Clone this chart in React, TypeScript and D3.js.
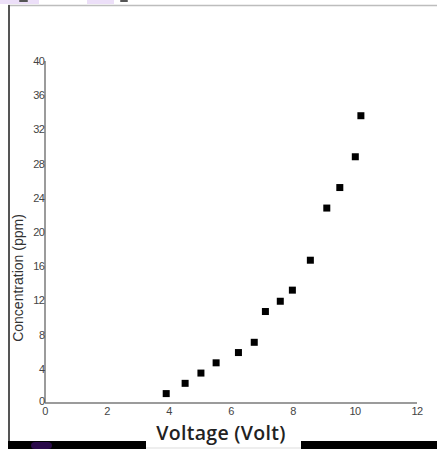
import React from "react";
import * as d3 from "d3";

// voltage (V) vs concentration (ppm)
const voltage = [3.91, 4.52, 5.03, 5.52, 6.24, 6.75, 7.11, 7.59, 7.98, 8.56, 9.09, 9.51, 10.01, 10.19];
const concentration = [1.1, 2.3, 3.5, 4.7, 5.9, 7.1, 10.7, 11.9, 13.2, 16.7, 22.8, 25.2, 28.8, 33.6];
const xTicks = [0, 2, 4, 6, 8, 10, 12];
const yTicks = [0, 4, 8, 12, 16, 20, 24, 28, 32, 36, 40];

const W = 437;
const H = 449;

export default function App() {
  const x = d3.scaleLinear().domain([0, 12]).range([45, 417]);
  const y = d3.scaleLinear().domain([0, 40]).range([403, 61]);
  const pts = voltage.map((v, i) => ({ v, c: concentration[i] }));
  const axisColor = "#7a7a7a";
  const tickColor = "#444";

  return (
    <svg
      width={W}
      height={H}
      style={{ position: "absolute", left: 0, top: 0, background: "#fff" }}
    >
      {/* bits of the surrounding page */}
      <rect x={0} y={0} width={39} height={4} fill="#ecdff8" />
      <rect x={87} y={0} width={27} height={4} fill="#ecdff8" />
      <rect x={19} y={0} width={9} height={2} rx={1} fill="#555" />
      <rect x={120} y={0} width={8} height={2} rx={1} fill="#555" />
      <line x1={8} x2={W} y1={5.5} y2={5.5} stroke="#bdbdbd" strokeWidth={1.5} />
      <line x1={9} x2={9} y1={5} y2={441} stroke="#555" strokeWidth={2} />
      <rect x={8} y={441} width={138} height={8} fill="#000" />
      <rect x={31} y={442} width={21} height={7} rx={4} fill="#2a0a4a" />
      <rect x={301} y={441} width={136} height={8} fill="#000" />
      <line x1={146} x2={301} y1={448} y2={448} stroke="#ddd" strokeWidth={1} />

      {/* axes */}
      <line x1={x(0)} x2={x(0)} y1={y(40)} y2={y(0)} stroke={axisColor} strokeWidth={1.5} />
      <line x1={x(0)} x2={x(12)} y1={y(0)} y2={y(0)} stroke={axisColor} strokeWidth={1.5} />

      <g fontFamily="Liberation Sans, Arial, sans-serif" fontSize={11} fill={tickColor} letterSpacing={-0.5}>
        {yTicks.map((t) => (
          <text key={"y" + t} x={x(0) - 0.5} y={y(t) + (t === 0 ? 2 : 4)} textAnchor="end">
            {t}
          </text>
        ))}
        {xTicks.map((t) => (
          <text key={"x" + t} x={x(t)} y={y(0) + 12} textAnchor="middle">
            {t}
          </text>
        ))}
      </g>

      {/* points */}
      {pts.map((d, i) => (
        <rect
          key={i}
          x={x(d.v) - 3.5}
          y={y(d.c) - 3.5}
          width={7}
          height={7}
          fill="#000"
        />
      ))}

      {/* axis titles */}
      <text
        transform={`translate(23,278) rotate(-90)`}
        textAnchor="middle"
        fontFamily="Liberation Sans, Arial, sans-serif"
        fontSize={14}
        fill="#333"
      >
        Concentration (ppm)
      </text>
      <text
        x={221}
        y={440}
        textAnchor="middle"
        fontFamily="Open Sans, sans-serif"
        fontWeight={600}
        fontSize={19.5}
        letterSpacing={0.3}
        fill="#222"
      >
        Voltage (Volt)
      </text>
    </svg>
  );
}
